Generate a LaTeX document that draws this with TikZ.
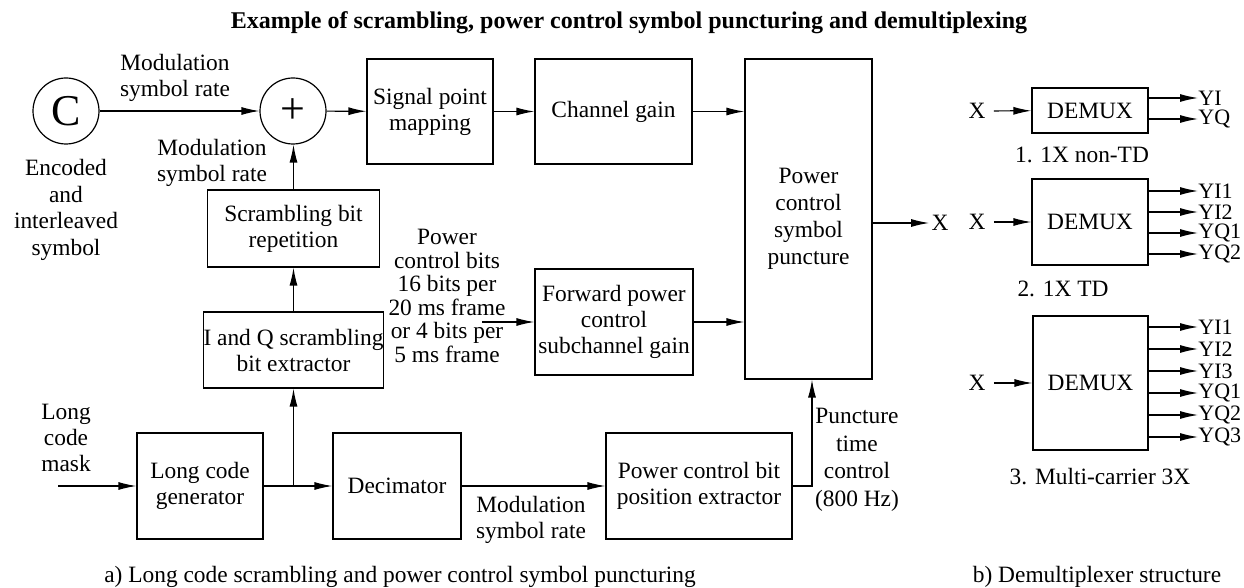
\documentclass[tikz,border=0pt]{standalone}
\usepackage{fontspec}
\setmainfont{Liberation Serif}
\usetikzlibrary{arrows.meta}
\begin{document}
\begin{tikzpicture}[x=0.5pt,y=-0.5pt,
    font=\fontsize{11.7}{13}\selectfont,
    blk/.style={draw,line width=0.6pt,align=center,inner sep=0pt},
    circ/.style={draw,line width=0.6pt,circle,minimum size=33pt,inner sep=0pt,font=\fontsize{22}{22}\selectfont},
    lbl/.style={align=center,inner sep=0pt},
    outl/.style={anchor=west,inner sep=0pt,font=\fontsize{11}{11}\selectfont},
    arr/.style={line width=0.6pt,-{Latex[length=9pt,width=4pt]}}]
    \useasboundingbox (0,0) rectangle (1244,588);
    \node[font=\bfseries\fontsize{12}{14}\selectfont] (title) at (629,23) {Example of scrambling, power control symbol puncturing and demultiplexing};
    \node[circ] (enc) at (66,111) {C};
    \node[circ] (sum) at (293,111) {+};
    \node[blk,minimum width=63pt,minimum height=52.5pt] (spm) at (430,111.5) {Signal point\\mapping};
    \node[blk,minimum width=78.5pt,minimum height=52.5pt] (cg) at (613.5,111.5) {Channel gain};
    \node[blk,minimum width=63.5pt,minimum height=160pt,font=\fontsize{11.7}{13.5}\selectfont] (pcsp) at (808.5,219) {Power\\control\\symbol\\puncture};
    \node[blk,minimum width=86pt,minimum height=38.5pt] (sbr) at (293.5,228.5) {Scrambling bit\\repetition};
    \node[blk,minimum width=86.5pt,minimum height=38pt] (iq) at (293.5,350) {I and Q scrambling\\bit extractor};
    \node[blk,minimum width=79pt,minimum height=53pt] (fpc) at (614,322) {Forward power\\control\\subchannel gain};
    \node[blk,minimum width=63pt,minimum height=53pt] (lcg) at (200,486) {Long code\\generator};
    \node[blk,minimum width=64pt,minimum height=53pt] (dec) at (397,486) {Decimator};
    \node[blk,minimum width=93pt,minimum height=53pt] (pcb) at (699,486) {Power control bit\\position extractor};

    \node[lbl] (rate1) at (175,78) {Modulation\\symbol rate};
    \node[lbl] (rate2) at (212,163) {Modulation\\symbol rate};
    \node[lbl] (rate3) at (531,520) {Modulation\\symbol rate};
    \node[lbl,font=\fontsize{11.7}{13.4}\selectfont] (encl) at (66,210) {Encoded\\and\\interleaved\\symbol};
    \node[lbl,font=\fontsize{11.7}{11.8}\selectfont] (pcbits) at (447,296) {Power\\control bits\\16 bits per\\20 ms frame\\or 4 bits per\\5 ms frame};
    \node[lbl] (maskl) at (66,438) {Long\\code\\mask};
    \node[lbl,font=\fontsize{11.7}{13.8}\selectfont] (punc) at (857,460) {Puncture\\time\\control\\(800 Hz)};
    \node[lbl] (capa) at (400,577) {a) Long code scrambling and power control symbol puncturing};

    \coordinate (mask) at (58,486);
    \coordinate (pcin) at (482,322);
    \coordinate (jn) at (293.5,486);
    \draw[arr] (enc) -- (sum);
    \draw[arr] (sum) -- (spm);
    \draw[arr] (spm) -- (cg);
    \draw[arr] (cg.east) -- (cg.east -| pcsp.west);
    \draw[arr] (fpc.east) -- (fpc.east -| pcsp.west);
    \draw[arr] (iq) -- (sbr);
    \draw[arr] (sbr.north) -- (sum.south -| sbr.north);
    \draw[arr] (mask) -- (lcg.west);
    \draw[arr] (lcg) -- (dec);
    \draw[arr] (jn) -- (iq.south);
    \draw[arr] (dec) -- (pcb);
    \draw[arr] (pcb.east) -| ([xshift=1.75pt]pcsp.south);
    \draw[arr] (pcin) -- (fpc.west);
    \node[inner sep=1pt] (xo) at (940,223) {X};
    \draw[arr] (pcsp.east |- xo) -- (xo);

    \node[blk,minimum width=58pt,minimum height=22.5pt] (dm1) at (1090,110.5) {DEMUX};
    \node[blk,minimum width=58pt,minimum height=43pt] (dm2) at (1090,222) {DEMUX};
    \node[blk,minimum width=57.5pt,minimum height=67pt] (dm3) at (1090.5,383) {DEMUX};
    \node[inner sep=4pt] (x1) at (977,111) {X};
    \node[inner sep=4pt] (x2) at (977,222) {X};
    \node[inner sep=4pt] (x3) at (977,383) {X};
    \draw[arr] (x1) -- (dm1);
    \draw[arr] (x2) -- (dm2);
    \draw[arr] (x3) -- (dm3);
    \foreach \y/\t [count=\i] in {98/YI,119/YQ}{
        \node[outl] (oa\i) at (1198,\y) {\t};
        \draw[arr] (dm1.east |- oa\i) -- (oa\i.west);
    }
    \foreach \y/\t [count=\i] in {191/YI1,212/YI2,233/YQ1,254/YQ2}{
        \node[outl] (ob\i) at (1198,\y) {\t};
        \draw[arr] (dm2.east |- ob\i) -- (ob\i.west);
    }
    \foreach \y/\t [count=\i] in {327/YI1,349/YI2,371/YI3,393/YQ1,415/YQ2,437/YQ3}{
        \node[outl] (oc\i) at (1198,\y) {\t};
        \draw[arr] (dm3.east |- oc\i) -- (oc\i.west);
    }
    \node[lbl] (cap1) at (1082,155) {1. 1X non-TD};
    \node[lbl] (cap2) at (1063,289) {2. 1X TD};
    \node[lbl] (cap3) at (1100,477) {3. Multi-carrier 3X};
    \node[lbl] (capb) at (1097,577) {b) Demultiplexer structure};
\end{tikzpicture}
\end{document}
